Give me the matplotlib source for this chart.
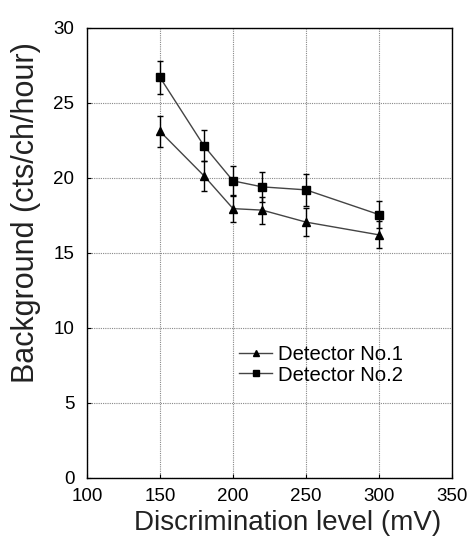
"""Background rate versus discrimination level for the two detectors."""

import matplotlib.pyplot as plt

plt.rcParams["font.family"] = ["Liberation Sans", "DejaVu Sans"]

# Discrimination level (mV)
levels = [150, 180, 200, 220, 250, 300]

# Background rate (cts/ch/hour) and its uncertainty
det1_rate = [23.1, 20.15, 17.95, 17.85, 17.05, 16.2]
det1_err = [1.05, 1.0, 0.9, 0.9, 0.95, 0.9]
det2_rate = [26.7, 22.15, 19.8, 19.4, 19.2, 17.55]
det2_err = [1.1, 1.05, 1.0, 1.0, 1.05, 0.9]

x_ticks = [100, 150, 200, 250, 300, 350]
y_ticks = [0, 5, 10, 15, 20, 25, 30]

fig = plt.figure(figsize=(4.70, 5.57), dpi=100)
ax = fig.add_axes([0.185, 0.142, 0.777, 0.808])

err_kw = dict(fmt="none", ecolor="black", elinewidth=1.0, capsize=2.0,
              capthick=1.0)
ax.errorbar(levels, det1_rate, yerr=det1_err, **err_kw)
ax.errorbar(levels, det2_rate, yerr=det2_err, **err_kw)

line_kw = dict(color="#444444", linewidth=1.0, markerfacecolor="black",
               markeredgecolor="black")
ax.plot(levels, det1_rate, marker="^", markersize=6, label="Detector No.1",
        **line_kw)
ax.plot(levels, det2_rate, marker="s", markersize=6, label="Detector No.2",
        **line_kw)

ax.set_xlim(100, 350)
ax.set_ylim(0, 30)
ax.set_xticks(x_ticks)
ax.set_yticks(y_ticks)
ax.tick_params(direction="in", length=3, labelsize=13.5, colors="black")
ax.tick_params(axis="x", pad=7)
ax.tick_params(axis="y", pad=9)
ax.grid(True, color="#888888", linestyle=(0, (1, 1)), linewidth=0.8)
for spine in ax.spines.values():
    spine.set_linewidth(1.0)

ax.set_xlabel("Discrimination level (mV)", fontsize=20, color="#222222")
ax.set_ylabel("Background (cts/ch/hour)", fontsize=22, color="#222222")
ax.xaxis.set_label_coords(0.549, -0.071)
ax.yaxis.set_label_coords(-0.125, 0.589)

leg = ax.legend(loc="lower left", bbox_to_anchor=(0.388, 0.185),
                frameon=False, fontsize=14.6, handlelength=1.65,
                handletextpad=0.3, borderpad=0, labelspacing=0.05)
for h in leg.legend_handles:
    h.set_markersize(5)

fig.savefig("out.png", dpi=100)
